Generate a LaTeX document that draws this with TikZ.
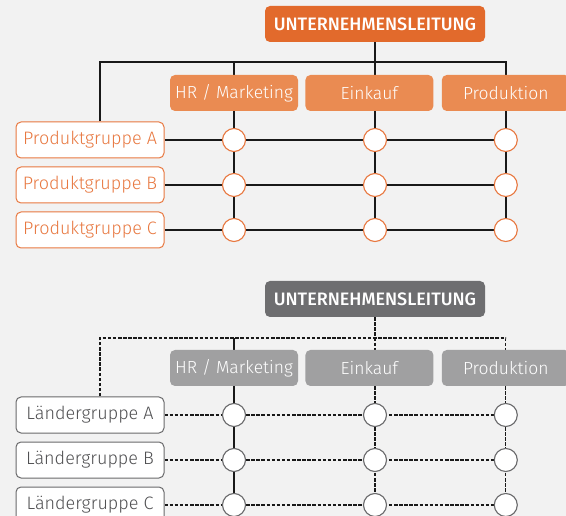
\documentclass[tikz,border=0pt]{standalone}
\usepackage{fontspec}
\setmainfont{Fira Sans}[UprightFont={* Light}, BoldFont={* Medium}]
\usetikzlibrary{positioning, backgrounds}
\definecolor{boardOrange}{RGB}{226, 106, 44}
\definecolor{unitOrange}{RGB}{234, 139, 82}
\definecolor{lineOrange}{RGB}{232, 120, 64}
\definecolor{boardGray}{RGB}{110, 110, 112}
\definecolor{unitGray}{RGB}{160, 160, 161}
\definecolor{lineGray}{RGB}{105, 105, 107}
\definecolor{textGray}{RGB}{80, 80, 82}
\definecolor{paperGray}{RGB}{242, 242, 242}
\tikzset{
    % Base Box Style
    orgbox/.style={
        rectangle,
        rounded corners=5pt,
        minimum width=128pt,
        minimum height=36pt,
        inner sep=0pt,
        text centered,
        font=\fontsize{18}{20}\selectfont
    },
    % Board Styles
    headOrange/.style={orgbox, minimum width=220pt, fill=boardOrange, text=white, font=\bfseries\fontsize{18}{20}\selectfont},
    headGray/.style={orgbox, minimum width=220pt, fill=boardGray, text=white, font=\bfseries\fontsize{18}{20}\selectfont},
    % Department Styles
    deptOrange/.style={orgbox, fill=unitOrange, text=white, font=\fontsize{17.5}{20}\selectfont},
    deptGray/.style={orgbox, fill=unitGray, text=white, font=\fontsize{17.5}{20}\selectfont},
    % Group Styles
    groupOrange/.style={orgbox, minimum width=148pt, fill=white, draw=lineOrange, line width=1pt, text=lineOrange},
    groupGray/.style={orgbox, minimum width=148pt, fill=white, draw=lineGray, line width=1pt, text=textGray},
    % Crossing Styles
    knotOrange/.style={circle, minimum size=23pt, inner sep=0pt, fill=white, draw=lineOrange, line width=1.1pt},
    knotGray/.style={circle, minimum size=23pt, inner sep=0pt, fill=white, draw=lineGray, line width=1.1pt},
    % Line Styles
    link/.style={draw=black!90, line width=1.4pt},
    dashLink/.style={draw=black!90, line width=1.1pt, dash pattern=on 3.5pt off 1.6pt}
}

\begin{document}
\begin{tikzpicture}[x=1pt, y=-1pt]

    \useasboundingbox (0,0) rectangle (566,516);

    % --- TOP CHART (Produktgruppen) ---

    \node (lead1) [headOrange] at (375,24) {UNTERNEHMENSLEITUNG};

    \node (hr1) [deptOrange] at (234,93) {HR / Marketing};
    \node (ek1) [deptOrange, right=7pt of hr1] {Einkauf};
    \node (pr1) [deptOrange, right=8pt of ek1] {Produktion};

    \node (grpA1) [groupOrange] at (90,140) {Produktgruppe A};
    \node (grpB1) [groupOrange, below=8pt of grpA1] {Produktgruppe B};
    \node (grpC1) [groupOrange, below=8pt of grpB1] {Produktgruppe C};

    % crossings
    \node (kA1) [knotOrange] at (hr1 |- grpA1) {};
    \node (kA2) [knotOrange] at (lead1 |- grpA1) {};
    \node (kA3) [knotOrange] at (pr1 |- grpA1) {};
    \node (kB1) [knotOrange] at (hr1 |- grpB1) {};
    \node (kB2) [knotOrange] at (lead1 |- grpB1) {};
    \node (kB3) [knotOrange] at (pr1 |- grpB1) {};
    \node (kC1) [knotOrange] at (hr1 |- grpC1) {};
    \node (kC2) [knotOrange] at (lead1 |- grpC1) {};
    \node (kC3) [knotOrange] at (pr1 |- grpC1) {};

    % --- BOTTOM CHART (Ländergruppen) ---

    \node (lead2) [headGray] at (375,299) {UNTERNEHMENSLEITUNG};

    \node (hr2) [deptGray] at (234,368) {HR / Marketing};
    \node (ek2) [deptGray, right=7pt of hr2] {Einkauf};
    \node (pr2) [deptGray, right=8pt of ek2] {Produktion};

    \node (grpA2) [groupGray] at (90,415) {Ländergruppe A};
    \node (grpB2) [groupGray, below=8pt of grpA2] {Ländergruppe B};
    \node (grpC2) [groupGray, below=8pt of grpB2] {Ländergruppe C};

    % crossings
    \node (mA1) [knotGray] at (hr2 |- grpA2) {};
    \node (mA2) [knotGray] at (lead2 |- grpA2) {};
    \node (mA3) [knotGray] at (pr2 |- grpA2) {};
    \node (mB1) [knotGray] at (hr2 |- grpB2) {};
    \node (mB2) [knotGray] at (lead2 |- grpB2) {};
    \node (mB3) [knotGray] at (pr2 |- grpB2) {};
    \node (mC1) [knotGray] at (hr2 |- grpC2) {};
    \node (mC2) [knotGray] at (lead2 |- grpC2) {};
    \node (mC3) [knotGray] at (pr2 |- grpC2) {};

    % --- Lines (behind the boxes) ---
    \begin{scope}[on background layer]
        \fill [paperGray] (0,0) rectangle (566,516);

        % Top: solid matrix
        \coordinate (bus1) at (100,62);
        \draw [link] (bus1 |- grpA1.north) -- (bus1) -- (pr1.north |- bus1) -- (pr1.north);
        \draw [link] (lead1) -- (lead1 |- ek1.north);
        \draw [link] (hr1.north |- bus1) -- (hr1.north);
        \draw [link] (hr1) -- (kC1);
        \draw [link] (lead1 |- ek1.south) -- (kC2);
        \draw [link] (pr1) -- (kC3);
        \draw [link] (grpA1) -- (kA3);
        \draw [link] (grpB1) -- (kB3);
        \draw [link] (grpC1) -- (kC3);

        % Bottom: dashed matrix, HR stays solid
        \coordinate (bus2) at (100,338);
        \draw [dashLink] (bus2 |- grpA2.north) -- (bus2) -- (pr2.north |- bus2) -- (pr2.north);
        \draw [dashLink] (lead2) -- (lead2 |- ek2.north);
        \draw [link] (hr2.north |- bus2) -- (hr2.north);
        \draw [link] (hr2) -- (mC1);
        \draw [dashLink] (lead2 |- ek2.south) -- (mC2);
        \draw [dashLink] (pr2) -- (mC3);
        \draw [dashLink] (grpA2) -- (mA3);
        \draw [dashLink] (grpB2) -- (mB3);
        \draw [dashLink] (grpC2) -- (mC3);
    \end{scope}

\end{tikzpicture}
\end{document}
